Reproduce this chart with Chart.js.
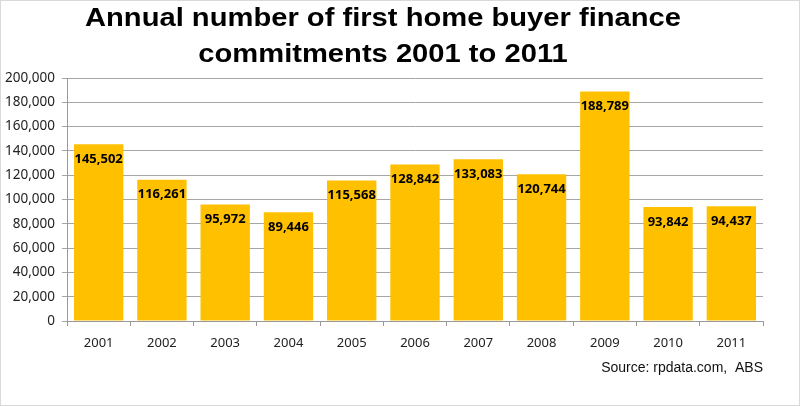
<!DOCTYPE html>
<html>
<head>
<meta charset="utf-8">
<script src="https://cdn.jsdelivr.net/npm/chart.js@4/dist/chart.umd.min.js"></script>
<style>
  html, body { margin: 0; padding: 0; background: #fff; }
  #wrap { width: 800px; height: 406px; }
</style>
</head>
<body>
<div id="wrap"><canvas id="myChart"></canvas></div>
<script>
const years = ['2001', '2002', '2003', '2004', '2005', '2006', '2007', '2008', '2009', '2010', '2011'];
const commitments = [145502, 116261, 95972, 89446, 115568, 128842, 133083, 120744, 188789, 93842, 94437];
const titleLines = ['Annual number of first home buyer finance', 'commitments 2001 to 2011'];
const sourceText = 'Source: rpdata.com,  ABS';

const fmt = v => Number(v).toLocaleString('en-US');

// frame, title, source, value labels
const decor = {
  id: 'decor',
  beforeDraw(chart) {
    const ctx = chart.ctx;
    ctx.save();
    ctx.fillStyle = '#fff';
    ctx.fillRect(0, 0, chart.width, chart.height);
    ctx.strokeStyle = '#d9d9d9';
    ctx.lineWidth = 1;
    ctx.strokeRect(0.5, 0.5, chart.width - 1, chart.height - 1);
    ctx.restore();
  },
  afterDraw(chart) {
    const ctx = chart.ctx;
    ctx.save();
    ctx.fillStyle = '#000';
    ctx.textAlign = 'center';
    ctx.textBaseline = 'alphabetic';
    ctx.font = 'bold 26.5px "Liberation Sans", Arial, sans-serif';
    // title is a little wider than the font in the original
    ctx.save();
    ctx.translate(383, 0);
    ctx.scale(1.1, 1);
    ctx.fillText(titleLines[0], 0, 26);
    ctx.fillText(titleLines[1], 0, 62);
    ctx.restore();

    ctx.font = '14px "Liberation Sans", Arial, sans-serif';
    ctx.textAlign = 'right';
    ctx.textBaseline = 'middle';
    ctx.fillStyle = '#111';
    ctx.fillText(sourceText, chart.chartArea.right, 368);

    ctx.font = 'bold 13px "Noto Sans", sans-serif';
    ctx.textAlign = 'center';
    ctx.fillStyle = '#000';
    chart.getDatasetMeta(0).data.forEach((bar, i) => {
      ctx.fillText(fmt(commitments[i]), bar.x, bar.y + 15);
    });
    ctx.restore();
  }
};

new Chart(document.getElementById('myChart'), {
  type: 'bar',
  data: {
    labels: years,
    datasets: [{
      data: commitments,
      backgroundColor: '#FFC000',
      categoryPercentage: 0.78,
      barPercentage: 1.0,
    }],
  },
  options: {
    responsive: true,
    maintainAspectRatio: false,
    animation: false,
    layout: { padding: { top: 78, left: 0, right: 37, bottom: 55 } },
    plugins: {
      legend: { display: false },
      tooltip: { enabled: false },
    },
    scales: {
      x: {
        grid: { drawOnChartArea: false, drawTicks: true, tickLength: 5, color: '#999' },
        border: { color: '#999' },
        ticks: { color: '#222', padding: 9, font: { family: '"Noto Sans", sans-serif', size: 13 } },
        afterFit: s => { s.height = 30; },
      },
      y: {
        min: 0,
        max: 200000,
        ticks: {
          stepSize: 20000,
          color: '#222',
          padding: 7,
          font: { family: '"Noto Sans", sans-serif', size: 13.5 },
          callback: v => fmt(v),
        },
        grid: { color: '#a6a6a6', tickLength: 5 },
        border: { color: '#999' },
        afterFit: s => { s.width = 67; },
      },
    },
  },
  plugins: [decor],
});
</script>
</body>
</html>
